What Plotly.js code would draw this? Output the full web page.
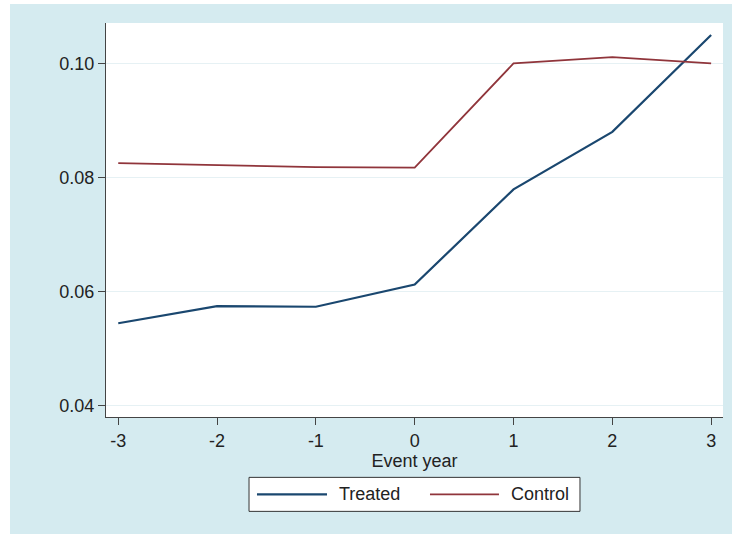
<!DOCTYPE html>
<html>
<head>
<meta charset="utf-8">
<script src="https://cdn.plot.ly/plotly-3.0.1.min.js"></script>
<style>
  html, body { margin: 0; padding: 0; background: #ffffff; }
  #chart { position: absolute; left: 10px; top: 4px; width: 722px; height: 530px; }
</style>
</head>
<body>
<div id="chart"></div>
<script>
const eventYears = [-3, -2, -1, 0, 1, 2, 3];
const treated = [0.0544, 0.0574, 0.0573, 0.0612, 0.0779, 0.0880, 0.1050];
const control = [0.0825, 0.0821, 0.0818, 0.0817, 0.1000, 0.1011, 0.1000];
const seriesNames = ['Treated', 'Control'];
const seriesColors = ['#1a476f', '#90353b'];
const xTickVals = [-3, -2, -1, 0, 1, 2, 3];
const xTickText = ['-3', '-2', '-1', '0', '1', '2', '3'];
const yTickVals = [0.04, 0.06, 0.08, 0.10];
const yTickText = ['0.04', '0.06', '0.08', '0.10'];

const font = {family: 'Liberation Sans, Arial, sans-serif', size: 18, color: '#222222'};

const traces = [
  {x: eventYears, y: treated, name: seriesNames[0], type: 'scatter', mode: 'lines',
   line: {color: seriesColors[0], width: 2.2}},
  {x: eventYears, y: control, name: seriesNames[1], type: 'scatter', mode: 'lines',
   line: {color: seriesColors[1], width: 1.8}}
];

// Stata-style legend box drawn below the plot (paper coordinates)
const legBox = {x0: 0.2318, x1: 0.7682, y0: -0.2395, y1: -0.1532};
const legLineY = -0.1963;
const legItems = [
  {lx0: 0.2447, lx1: 0.3582, tx: 0.3745},
  {lx0: 0.5251, lx1: 0.6369, tx: 0.6535}
];
const shapes = [
  {type: 'rect', xref: 'paper', yref: 'paper', x0: legBox.x0, x1: legBox.x1, y0: legBox.y0, y1: legBox.y1,
   fillcolor: '#ffffff', line: {color: '#333333', width: 1}, layer: 'above'}
];
const annotations = [];
legItems.forEach((it, i) => {
  shapes.push({type: 'line', xref: 'paper', yref: 'paper', x0: it.lx0, x1: it.lx1, y0: legLineY, y1: legLineY,
    line: {color: seriesColors[i], width: i === 0 ? 2.2 : 1.8}, layer: 'above'});
  annotations.push({xref: 'paper', yref: 'paper', x: it.tx, y: legLineY, xanchor: 'left', yanchor: 'middle',
    text: seriesNames[i], showarrow: false, font: font});
});

const layout = {
  width: 722, height: 530,
  paper_bgcolor: '#d5ebf0',
  plot_bgcolor: '#ffffff',
  font: font,
  margin: {l: 96, r: 9, t: 19, b: 117.3, pad: 0},
  showlegend: false,
  shapes: shapes,
  annotations: annotations,
  xaxis: {
    range: [-3.124, 3.12], fixedrange: true,
    tickmode: 'array', tickvals: xTickVals, ticktext: xTickText,
    showgrid: false, zeroline: false,
    showline: true, linecolor: '#444444', linewidth: 1,
    ticks: 'outside', ticklen: 7, tickcolor: '#444444', tickwidth: 1,
    tickfont: font,
    title: {text: 'Event year', font: font, standoff: 0}
  },
  yaxis: {
    range: [0.03795, 0.1071], fixedrange: true,
    tickmode: 'array', tickvals: yTickVals, ticktext: yTickText,
    showgrid: true, gridcolor: '#e6f1f4', gridwidth: 1.2,
    zeroline: false,
    showline: true, linecolor: '#444444', linewidth: 1,
    ticks: 'outside', ticklen: 7, tickcolor: '#444444', tickwidth: 1,
    tickfont: font
  }
};

Plotly.newPlot('chart', traces, layout, {displayModeBar: false, staticPlot: true});
</script>
</body>
</html>
